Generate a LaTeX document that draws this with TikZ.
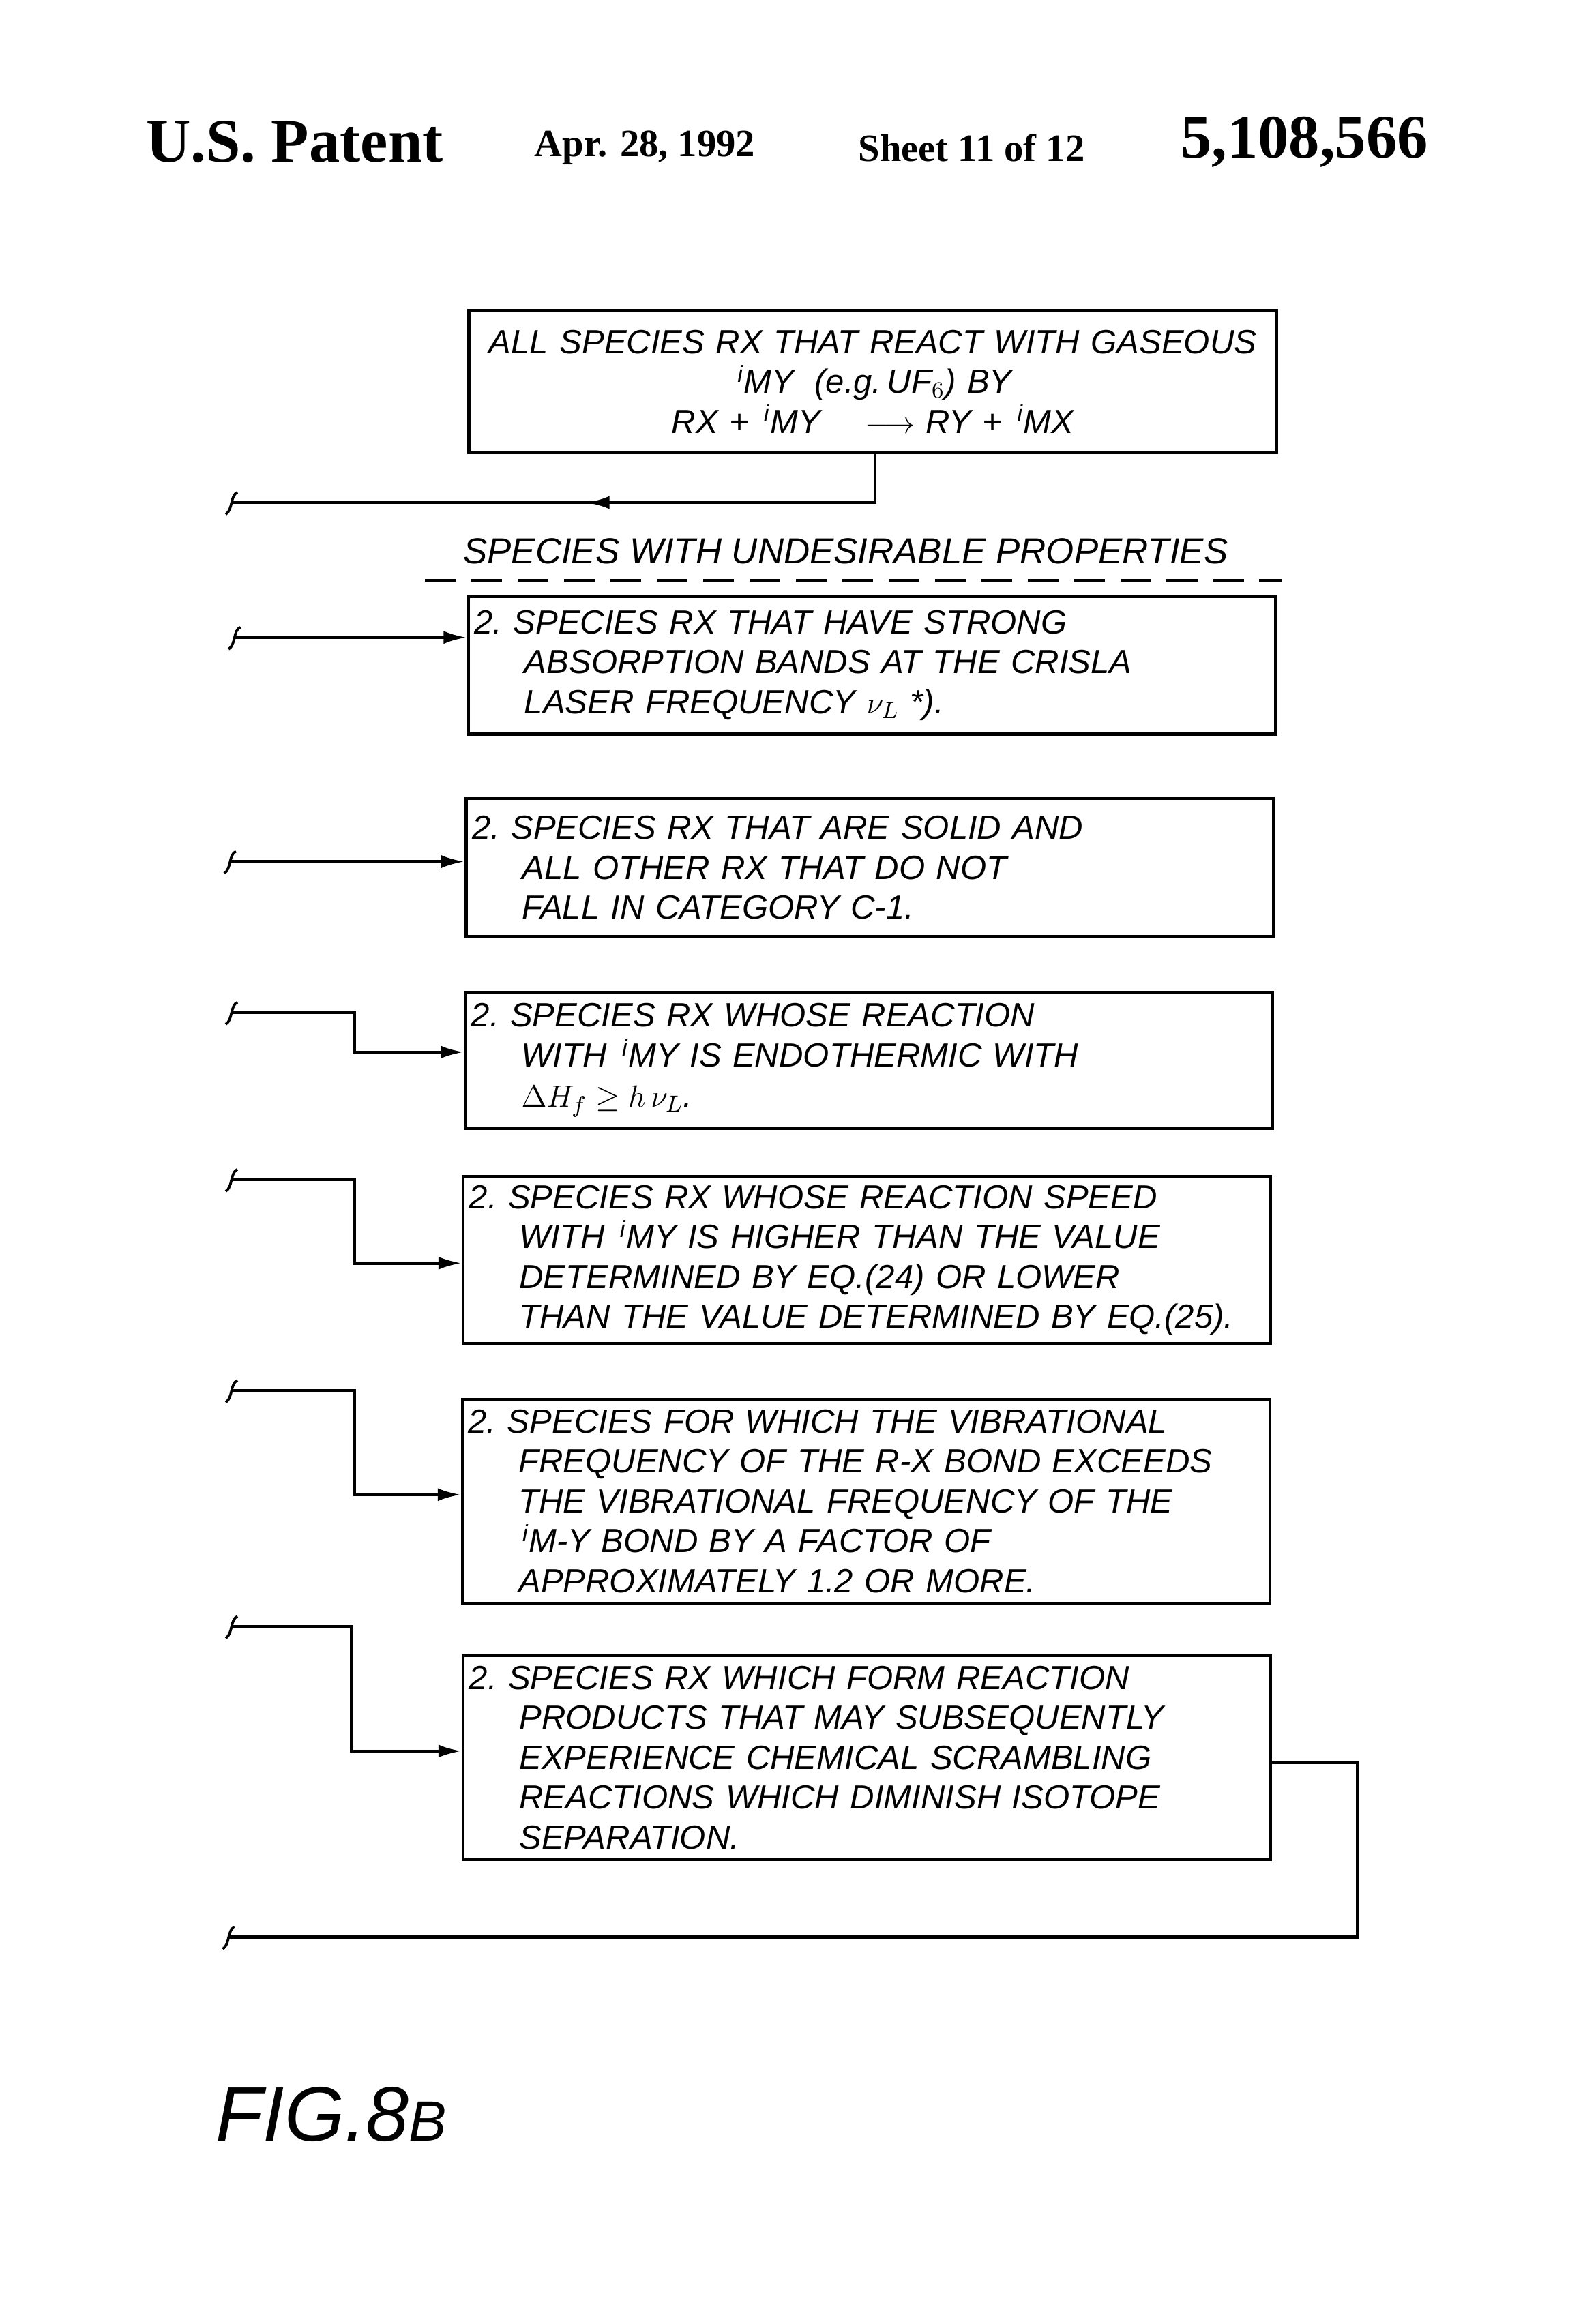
\documentclass[tikz,border=0pt]{standalone}
\usepackage{fontspec}
\setmainfont{Liberation Serif}
\newfontfamily\hand{Liberation Sans}
\usetikzlibrary{arrows.meta,positioning,calc}

\newcommand{\iso}{\textsuperscript{\,i}}
\newcommand{\hookat}[1]{\draw[line width=1pt] ($(#1)+(4,-7)$) .. controls ($(#1)+(-1,-5)$) and ($(#1)+(1,5)$) .. ($(#1)+(-4,8)$);}

\begin{document}
\begin{tikzpicture}[
    x=0.02cm, y=-0.02cm,
    box/.style={rectangle, draw, line width=1.2pt, minimum width=11.02cm, inner xsep=0.08cm, inner ysep=0pt, text width=10.86cm, align=left, font=\hand\itshape\fontsize{13}{15.5}\selectfont},
    flow/.style={line width=1.2pt, -{Latex[length=9pt,width=5pt]}},
    wire/.style={line width=1.2pt},
    head/.style={font=\bfseries\fontsize{24}{26}\selectfont},
    sub/.style={font=\bfseries\fontsize{15}{17}\selectfont}
]
    \useasboundingbox (0,0) rectangle (1080,1586);

    % header
    \node[head] (pat) at (201,97) {U.S. Patent};
    \node[sub] (date) at (440,101) {Apr. 28, 1992};
    \node[sub] (sheet) at (663,101) {Sheet 11 of 12};
    \node[head] (num) at (890,97) {5,108,566};

    % boxes
    \node[box, minimum height=1.94cm, align=center] (all) at (595.5,260.5)
        {ALL SPECIES RX THAT REACT WITH GASEOUS\\
         \iso MY\; (e.g.\,UF$_6$) BY\\
         RX + \iso MY \quad $\longrightarrow$ RY + \iso MX};
    \node[box, minimum height=1.88cm] (strong) at (595,454)
        {2.\ SPECIES RX THAT HAVE STRONG\\
         \hspace*{1.5em}ABSORPTION BANDS AT THE CRISLA\\
         \hspace*{1.5em}LASER FREQUENCY $\nu_L$ *).};
    \node[box, minimum height=1.88cm] (solid) at (593.5,592)
        {2.\ SPECIES RX THAT ARE SOLID AND\\
         \hspace*{1.5em}ALL OTHER RX THAT DO NOT\\
         \hspace*{1.5em}FALL IN CATEGORY C-1.};
    \node[box, minimum height=1.86cm] (endo) at (593,723.5)
        {2.\ SPECIES RX WHOSE REACTION\\
         \hspace*{1.5em}WITH \iso MY IS ENDOTHERMIC WITH\\
         \hspace*{1.5em}$\Delta H_f \geq h\,\nu_L$.};
    \node[box, minimum height=2.28cm] (speed) at (591.5,860)
        {2.\ SPECIES RX WHOSE REACTION SPEED\\
         \hspace*{1.5em}WITH \iso MY IS HIGHER THAN THE VALUE\\
         \hspace*{1.5em}DETERMINED BY EQ.(24) OR LOWER\\
         \hspace*{1.5em}THAN THE VALUE DETERMINED BY EQ.(25).};
    \node[box, minimum height=2.78cm] (vib) at (591,1024.5)
        {2.\ SPECIES FOR WHICH THE VIBRATIONAL\\
         \hspace*{1.5em}FREQUENCY OF THE R-X BOND EXCEEDS\\
         \hspace*{1.5em}THE VIBRATIONAL FREQUENCY OF THE\\
         \hspace*{1.5em}\iso M-Y BOND BY A FACTOR OF\\
         \hspace*{1.5em}APPROXIMATELY 1.2 OR MORE.};
    \node[box, minimum height=2.78cm] (scram) at (591.5,1199.5)
        {2.\ SPECIES RX WHICH FORM REACTION\\
         \hspace*{1.5em}PRODUCTS THAT MAY SUBSEQUENTLY\\
         \hspace*{1.5em}EXPERIENCE CHEMICAL SCRAMBLING\\
         \hspace*{1.5em}REACTIONS WHICH DIMINISH ISOTOPE\\
         \hspace*{1.5em}SEPARATION.};

    % heading with dashed rule
    \node[font=\hand\itshape\fontsize{14}{16}\selectfont] (undes) at (577,376) {SPECIES WITH UNDESIRABLE PROPERTIES};
    \coordinate (dl) at (290,396);
    \coordinate (dr) at (875,396);
    \draw[wire, dash pattern=on 12pt off 6pt] (dl) -- (dr);

    % free ends
    \coordinate (e0) at (158,343);
    \coordinate (e1) at (160,435);
    \coordinate (e2) at (157,588);
    \coordinate (e3) at (158,691);
    \coordinate (e4) at (158,805);
    \coordinate (e5) at (158,949);
    \coordinate (e6) at (158,1110);
    \coordinate (e7) at (156,1322);
    \coordinate (mid) at (400,343);
    \foreach \e in {e0,e1,e2,e3,e4,e5,e6,e7} {\hookat{\e}}

    % connectors
    \draw[wire] (all.south -| 597,0) |- (mid);
    \draw[flow] (597,343) -- (mid);
    \draw[wire] (mid) -- (e0);
    \draw[flow] (e1) -- (e1 -| strong.west);
    \draw[flow] (e2) -- (e2 -| solid.west);
    \draw[flow] (e3) -- (242,691) |- (endo.west |- 0,718);
    \draw[flow] (e4) -- (242,805) |- (speed.west |- 0,862);
    \draw[flow] (e5) -- (242,949) |- (vib.west |- 0,1020);
    \draw[flow] (e6) -- (240,1110) |- (scram.west |- 0,1195);
    \draw[wire] (scram.east |- 0,1203) -- (926,1203) |- (e7);

    % figure label
    \node[font=\hand\itshape\fontsize{30}{32}\selectfont] (fig) at (226,1443) {FIG.8{\fontsize{22}{24}\selectfont B}};
\end{tikzpicture}
\end{document}
